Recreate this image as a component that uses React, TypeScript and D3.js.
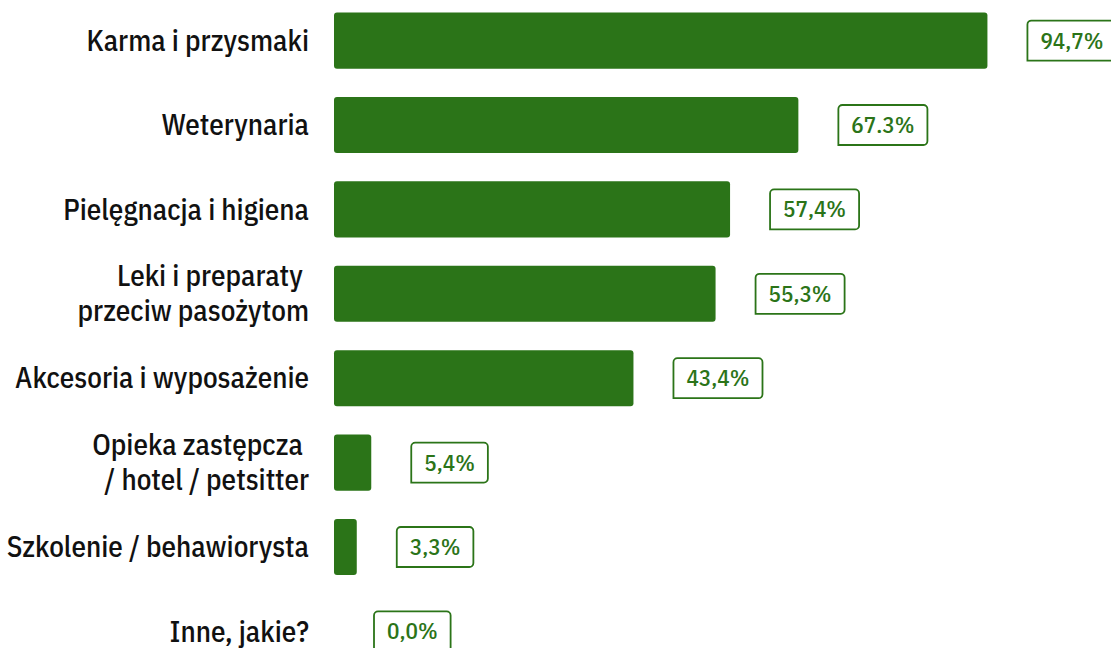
import * as React from "react"
import * as d3 from "d3"

// chart values
const categories: string[][] = [
    ["Karma i przysmaki"],
    ["Weterynaria"],
    ["Pielęgnacja i higiena"],
    ["Leki i preparaty ", "przeciw pasożytom"],
    ["Akcesoria i wyposażenie"],
    ["Opieka zastępcza ", "/ hotel / petsitter"],
    ["Szkolenie / behawiorysta"],
    ["Inne, jakie?"],
]
const values: number[] = [94.7, 67.3, 57.4, 55.3, 43.4, 5.4, 3.3, 0.0]
const valueLabels: string[] = ["94,7%", "67.3%", "57,4%", "55,3%", "43,4%", "5,4%", "3,3%", "0,0%"]

const WIDTH = 1111
const HEIGHT = 648
const GREEN = "#2b7418"
const FONT = "'IBM Plex Sans Condensed', Roboto, 'Noto Sans', sans-serif"

const App = (): JSX.Element => {
    const ref = React.useRef<SVGSVGElement | null>(null)

    React.useEffect(() => {
        const svg = d3.select(ref.current)
        svg.selectAll("*").remove()

        const idx = values.map((_, i) => String(i))

        const x = d3.scaleLinear().domain([0, 100]).range([334, 1024])
        const y = d3.scaleBand<string>()
            .domain(idx)
            .range([-1, 673])
            .paddingInner(0.335)
            .paddingOuter(0.16)

        const rows = svg.selectAll("g.row")
            .data(values)
            .enter()
            .append("g")
            .attr("class", "row")
            .attr("transform", (_, i) => "translate(0," + (y(String(i)) as number) + ")")

        const bw = y.bandwidth()

        // bars
        rows.filter((d) => d > 0)
            .append("rect")
            .attr("x", x(0))
            .attr("y", 0)
            .attr("width", (d) => x(d) - x(0))
            .attr("height", bw)
            .attr("rx", 3)
            .attr("fill", GREEN)

        // category labels (may wrap onto two lines)
        rows.append("text")
            .attr("text-anchor", "end")
            .attr("font-family", FONT)
            .attr("font-size", 29)
            .attr("font-weight", 500)
            .attr("fill", "#111")
            .each(function (_, i) {
                const lines = categories[i]
                const t = d3.select(this)
                lines.forEach((line, j) => {
                    t.append("tspan")
                        .attr("x", 309)
                        .attr("y", bw / 2 + (j - (lines.length - 1) / 2) * 35)
                        .attr("dy", "0.35em")
                        .attr("xml:space", "preserve")
                        .text(line)
                })
            })

        // value boxes
        rows.each(function (d, i) {
            const g = d3.select(this)
            const left = x(d) + 40
            const bh = 40
            const top = bw / 2 - bh / 2
            const label = g.append("text")
                .attr("font-family", FONT)
                .attr("font-size", 23)
                .attr("font-weight", 500)
                .attr("fill", GREEN)
                .attr("text-anchor", "middle")
                .attr("dy", "0.35em")
                .text(valueLabels[i])
            const tw = (label.node() as SVGTextElement).getComputedTextLength()
            const w = tw + 26
            const r = 4
            const path = d3.path()
            path.moveTo(left, top + bh)
            path.lineTo(left, top + r)
            path.arcTo(left, top, left + r, top, r)
            path.lineTo(left + w - r, top)
            path.arcTo(left + w, top, left + w, top + r, r)
            path.lineTo(left + w, top + bh - r)
            path.arcTo(left + w, top + bh, left + w - r, top + bh, r)
            path.closePath()
            g.insert("path", "text:last-child")
                .attr("d", path.toString())
                .attr("fill", "#fff")
                .attr("stroke", GREEN)
                .attr("stroke-width", 1.8)
            label.attr("x", left + w / 2).attr("y", bw / 2)
        })
    }, [])

    return (
        <svg
            ref={ref}
            width={WIDTH}
            height={HEIGHT}
            style={{ position: "absolute", left: 0, top: 0, background: "#fff" }}
        />
    )
}

export default App
